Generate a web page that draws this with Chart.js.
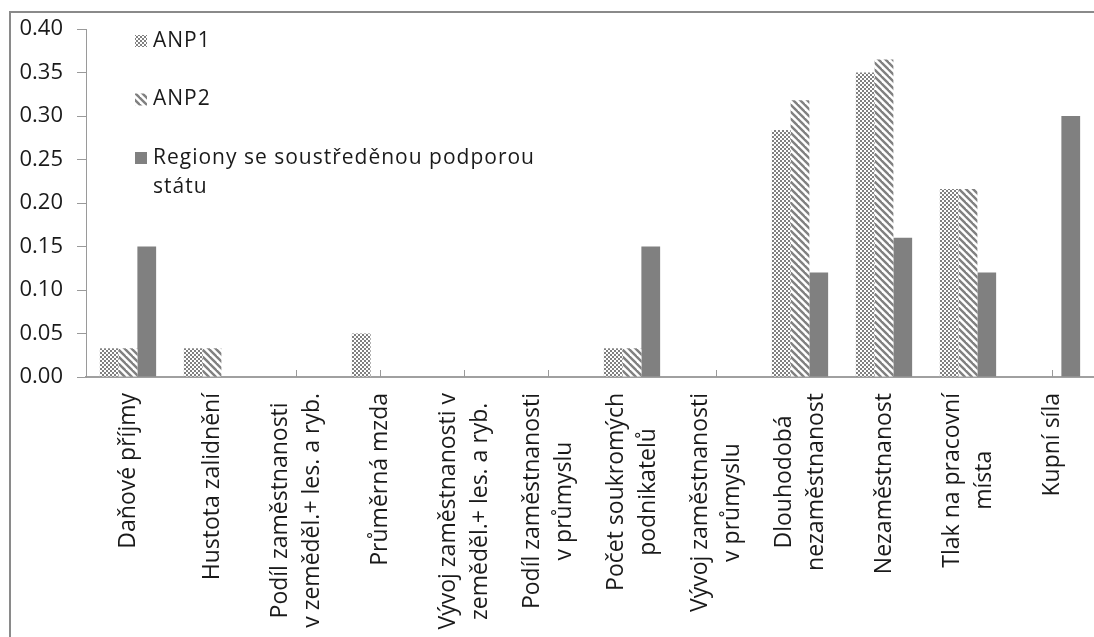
<!DOCTYPE html>
<html>
<head>
<meta charset="utf-8">
<script src="https://cdn.jsdelivr.net/npm/chart.js@4.4.1/dist/chart.umd.min.js"></script>
<style>
  html, body { margin: 0; padding: 0; background: #ffffff; }
  #wrap { width: 1094px; height: 637px; position: relative; }
  canvas { display: block; }
</style>
</head>
<body>
<div id="wrap"><canvas id="chart" width="1094" height="637"></canvas></div>
<script>
// Indicator categories (multi-line labels are arrays of lines)
const categories = [
  'Daňové příjmy',
  'Hustota zalidnění',
  ['Podíl zaměstnanosti', 'v zeměděl.+ les. a ryb.'],
  'Průměrná mzda',
  ['Vývoj zaměstnanosti v', 'zeměděl.+ les. a ryb.'],
  ['Podíl zaměstnanosti', 'v průmyslu'],
  ['Počet soukromých', 'podnikatelů'],
  ['Vývoj zaměstnanosti', 'v průmyslu'],
  ['Dlouhodobá', 'nezaměstnanost'],
  'Nezaměstnanost',
  ['Tlak na pracovní', 'místa'],
  'Kupní síla'
];

// Weights per indicator
const anp1Values    = [0.033, 0.033, 0, 0.05, 0, 0, 0.033, 0, 0.284, 0.350, 0.216, 0];
const anp2Values    = [0.033, 0.033, 0, 0,    0, 0, 0.033, 0, 0.318, 0.365, 0.216, 0];
const regionyValues = [0.15,  0,     0, 0,    0, 0, 0.15,  0, 0.12,  0.16,  0.12,  0.30];

const seriesNames = ['ANP1', 'ANP2', 'Regiony se soustředěnou podporou státu'];

// Y axis range and step
const yMin = 0, yMax = 0.40, yStep = 0.05;

const FONT = '"Open Sans", "DejaVu Sans", sans-serif';
const TEXT = '#1a1a1a';
const GREY = '#808080';

// Fill patterns
function checkerPattern() {
  const c = document.createElement('canvas');
  c.width = 4; c.height = 4;
  const g = c.getContext('2d');
  g.fillStyle = '#ffffff'; g.fillRect(0, 0, 4, 4);
  g.fillStyle = GREY;
  g.fillRect(0, 0, 2, 2);
  g.fillRect(2, 2, 2, 2);
  return g.createPattern(c, 'repeat');
}
function stripePattern() {
  const s = 7;
  const c = document.createElement('canvas');
  c.width = s; c.height = s;
  const g = c.getContext('2d');
  g.fillStyle = '#ffffff'; g.fillRect(0, 0, s, s);
  g.strokeStyle = GREY;
  g.lineWidth = 2.4;
  for (const off of [-s, 0, s]) {
    g.beginPath();
    g.moveTo(off - 1, -1);
    g.lineTo(off + s + 1, s + 1);
    g.stroke();
  }
  return g.createPattern(c, 'repeat');
}
const ctx0 = document.getElementById('chart').getContext('2d');
const fills = [checkerPattern(), stripePattern(), GREY];

// Outer frame, inner category ticks, rotated category labels and legend
const decorations = {
  id: 'decorations',
  beforeDatasetsDraw(chart) {
    const { ctx, chartArea } = chart;
    const xs = chart.scales.x;
    ctx.save();
    ctx.strokeStyle = '#9a9a9a';
    ctx.lineWidth = 1;
    for (let i = 0; i < categories.length; i++) {
      const px = Math.round(xs.getPixelForValue(i)) + 0.5;
      ctx.beginPath();
      ctx.moveTo(px, chartArea.bottom);
      ctx.lineTo(px, chartArea.bottom - 7);
      ctx.stroke();
    }
    ctx.restore();
  },
  afterDraw(chart) {
    const { ctx, chartArea } = chart;
    const xs = chart.scales.x;
    ctx.save();

    // frame
    ctx.strokeStyle = '#8a8a8a';
    ctx.lineWidth = 2;
    ctx.beginPath();
    ctx.moveTo(10, chart.height);
    ctx.lineTo(10, 12);
    ctx.lineTo(chart.width, 12);
    ctx.stroke();

    // category labels, read bottom-to-top, lines centred on each other
    ctx.font = '23px ' + FONT;
    ctx.fillStyle = TEXT;
    ctx.textAlign = 'center';
    ctx.textBaseline = 'middle';
    const lineGap = 32;
    const top = chartArea.bottom + 16;
    categories.forEach((lab, i) => {
      const lines = Array.isArray(lab) ? lab : [lab];
      const w = Math.max(...lines.map(l => ctx.measureText(l).width));
      const px = xs.getPixelForValue(i);
      ctx.save();
      ctx.translate(px, top + w / 2);
      ctx.rotate(-Math.PI / 2);
      lines.forEach((l, j) => {
        ctx.fillText(l, 0, (j - (lines.length - 1) / 2) * lineGap);
      });
      ctx.restore();
    });

    // legend
    ctx.font = '21px ' + FONT;
    if ('letterSpacing' in ctx) ctx.letterSpacing = '1px';
    ctx.textAlign = 'left';
    ctx.textBaseline = 'middle';
    const lx = 135, tx = 153, maxW = 400, rowGap = 58.5, wrapGap = 29;
    let cy = 41;
    chart.data.datasets.forEach((ds) => {
      ctx.fillStyle = ds.backgroundColor;
      ctx.fillRect(lx, cy - 6, 12, 12);
      // wrap text by width
      const words = ds.label.split(' ');
      const lines = [];
      let cur = '';
      words.forEach(wd => {
        const t = cur ? cur + ' ' + wd : wd;
        if (ctx.measureText(t).width > maxW && cur) { lines.push(cur); cur = wd; }
        else cur = t;
      });
      lines.push(cur);
      ctx.fillStyle = TEXT;
      lines.forEach((l, j) => ctx.fillText(l, tx, cy + j * wrapGap));
      cy += rowGap;
    });
    if ('letterSpacing' in ctx) ctx.letterSpacing = '0px';
    ctx.restore();
  }
};

new Chart(ctx0, {
  type: 'bar',
  data: {
    labels: categories,
    datasets: [
      { label: seriesNames[0], data: anp1Values, backgroundColor: fills[0] },
      { label: seriesNames[1], data: anp2Values, backgroundColor: fills[1] },
      { label: seriesNames[2], data: regionyValues, backgroundColor: fills[2] }
    ]
  },
  options: {
    responsive: false,
    animation: false,
    devicePixelRatio: 1,
    layout: { padding: { left: 0, right: 0, top: 29, bottom: 0 } },
    datasets: {
      bar: { categoryPercentage: 0.67, barPercentage: 1.0, borderWidth: 0 }
    },
    plugins: {
      legend: { display: false },
      tooltip: { enabled: false }
    },
    scales: {
      x: {
        grid: { display: false },
        border: { display: true, color: '#a0a0a0', width: 2 },
        ticks: { display: false },
        afterFit(scale) { scale.height = 260; }
      },
      y: {
        min: yMin,
        max: yMax,
        grid: { drawOnChartArea: false, drawTicks: true, tickLength: 9, color: '#9a9a9a' },
        border: { display: true, color: '#9a9a9a', width: 1 },
        ticks: {
          stepSize: yStep,
          padding: 14,
          color: TEXT,
          font: { family: FONT, size: 22 },
          callback: v => v.toFixed(2)
        },
        afterFit(scale) { scale.width = 86; }
      }
    }
  },
  plugins: [decorations]
});
</script>
</body>
</html>
